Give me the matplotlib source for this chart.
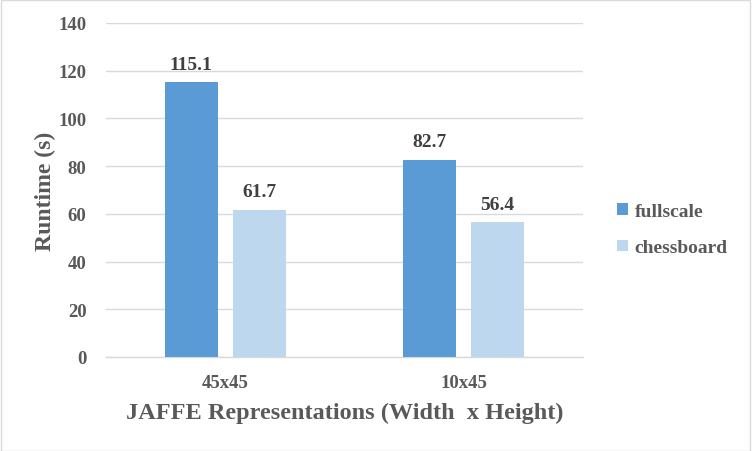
import numpy as np
import matplotlib.pyplot as plt
from matplotlib.patches import Rectangle

categories = ['45x45', '10x45']
fullscale = [115.1, 82.7]
chessboard = [61.7, 56.4]
yticks = [0, 20, 40, 60, 80, 100, 120, 140]

grey = '#595959'
plt.rcParams['font.family'] = 'Liberation Serif'
plt.rcParams['font.weight'] = 'bold'

fig = plt.figure(figsize=(7.52, 4.52), dpi=100)
ax = fig.add_axes([0.141, 0.208, 0.634, 0.739])

x = np.arange(len(categories))
w = 0.222
b1 = ax.bar(x - 0.143, fullscale, w, color='#5b9bd5', label='fullscale', zorder=3)
b2 = ax.bar(x + 0.143, chessboard, w, color='#bdd7ee', label='chessboard', zorder=3)

for bars, vals in [(b1, fullscale), (b2, chessboard)]:
    for r, v in zip(bars, vals):
        ax.text(r.get_x() + r.get_width() / 2, v + 4, f'{v:.1f}', ha='center', va='bottom',
                fontsize=14, fontweight='bold', color='#404040')

ax.set_xlim(-0.5, 1.5)
ax.set_ylim(0, 140)
ax.set_yticks(yticks)
ax.set_xticks(x)
ax.set_xticklabels(categories)
ax.tick_params(axis='both', length=0, labelsize=13.5, colors=grey)
ax.tick_params(axis='x', pad=12)
ax.tick_params(axis='y', pad=14)
ax.grid(axis='y', color='#d9d9d9', linewidth=1, zorder=0)
for s in ['top', 'right', 'left']:
    ax.spines[s].set_visible(False)
ax.spines['bottom'].set_color('#d9d9d9')
ax.spines['bottom'].set_linewidth(1)

ax.set_ylabel('Runtime (s)', fontsize=17, fontweight='bold', color=grey, labelpad=2)
ax.set_xlabel('JAFFE Representations (Width  x Height)', fontsize=17.5, fontweight='bold',
              color=grey, labelpad=8)

leg = fig.legend(handles=[b1, b2], loc='center left', bbox_to_anchor=(0.797, 0.49),
                 frameon=False, fontsize=14, handlelength=0.55, handleheight=0.55,
                 handletextpad=0.35, labelspacing=1.0, labelcolor=grey)

fig.patches.append(Rectangle((0.001, 0.001), 0.997, 0.997, transform=fig.transFigure,
                             fill=False, edgecolor='#d9d9d9', linewidth=1))

fig.savefig('out.png', dpi=100)
